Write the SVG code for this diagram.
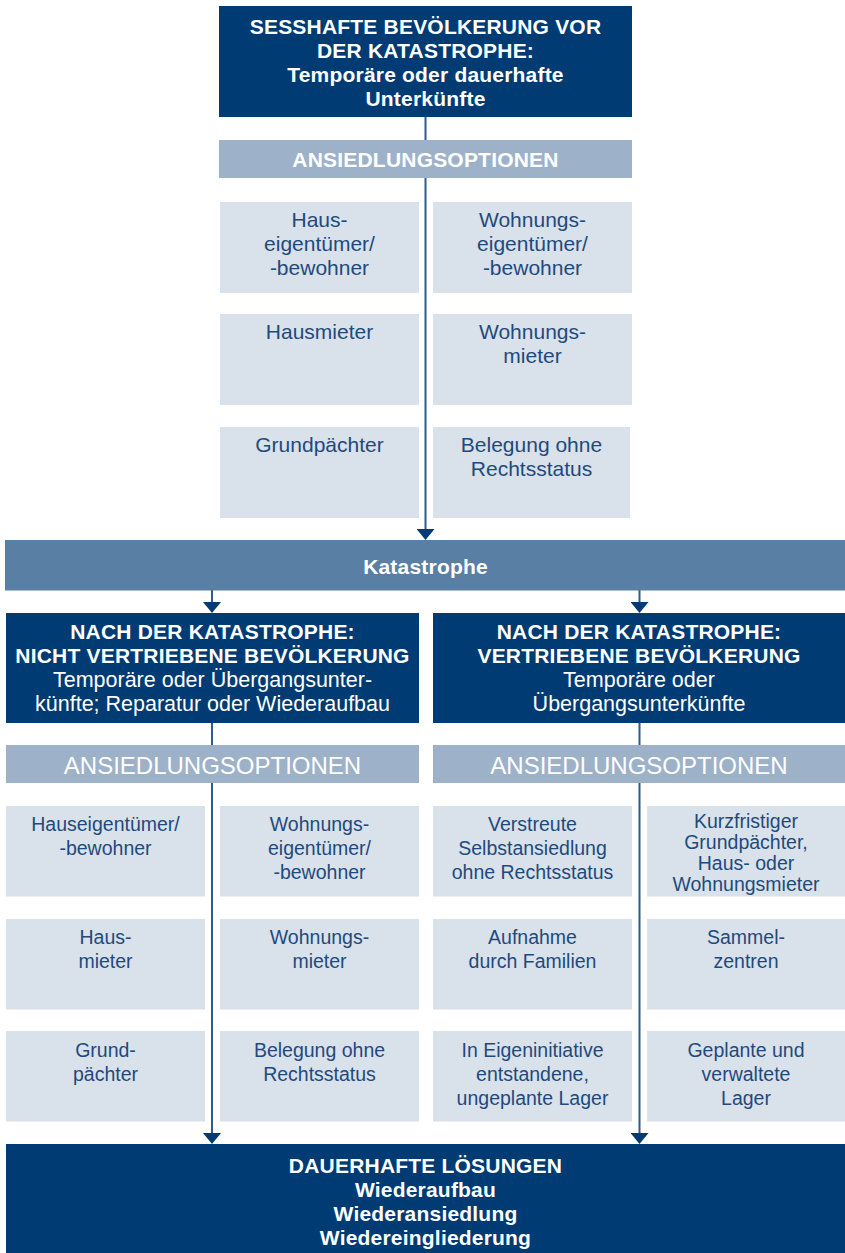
<svg xmlns="http://www.w3.org/2000/svg" width="845" height="1253" viewBox="0 0 845 1253">
<style>
.navy{fill:#003b73}
.kat{fill:#5a7fa5}
.bar{fill:#9db1c9}
.opt{fill:#d9e1ea}
text{font-family:"Liberation Sans",Arial,Helvetica,sans-serif;text-anchor:middle}
.hb{font-size:21px;font-weight:bold;fill:#fff;letter-spacing:0.2px}
.hr{font-size:21.5px;fill:#fff}
.b2{font-size:24px;fill:#fff}
.ot{font-size:21px;fill:#1f4a7c}
.os{font-size:19.5px;fill:#1f4a7c}
.conn{stroke:#2c5b8e;stroke-width:2;fill:none}
</style>
<defs>
<marker id="ah" markerUnits="userSpaceOnUse" markerWidth="11" markerHeight="18" refX="1" refY="9" orient="auto" viewBox="0 0 11 18">
<path d="M0,0 L11,9 L0,18 z" fill="#003b73"/>
</marker>
</defs>

<g id="connectors">
<line class="conn" x1="425.5" y1="116" x2="425.5" y2="530" marker-end="url(#ah)"/>
<line class="conn" x1="212" y1="590" x2="212" y2="603" marker-end="url(#ah)"/>
<line class="conn" x1="639.5" y1="590" x2="639.5" y2="603" marker-end="url(#ah)"/>
<line class="conn" x1="212" y1="722" x2="212" y2="1134" marker-end="url(#ah)"/>
<line class="conn" x1="639.5" y1="722" x2="639.5" y2="1134" marker-end="url(#ah)"/>
</g>

<g id="top">
<rect class="navy" x="219" y="6" width="413" height="111"/>
<text class="hb" x="425.5" y="34">SESSHAFTE BEVÖLKERUNG VOR</text>
<text class="hb" x="425.5" y="58">DER KATASTROPHE:</text>
<text class="hb" x="425.5" y="82">Temporäre oder dauerhafte</text>
<text class="hb" x="425.5" y="105.5">Unterkünfte</text>
</g>

<g id="optTop">
<rect class="bar" x="219" y="140" width="413" height="38"/>
<text class="hb" x="425.5" y="166.5">ANSIEDLUNGSOPTIONEN</text>
</g>

<g id="t1"><rect class="opt" x="220" y="202" width="199" height="91"/>
<text class="ot" x="319.5" y="227">Haus-</text><text class="ot" x="319.5" y="251">eigentümer/</text><text class="ot" x="319.5" y="275">-bewohner</text></g>
<g id="t2"><rect class="opt" x="433" y="202" width="199" height="91"/>
<text class="ot" x="532.5" y="227">Wohnungs-</text><text class="ot" x="532.5" y="251">eigentümer/</text><text class="ot" x="532.5" y="275">-bewohner</text></g>
<g id="t3"><rect class="opt" x="220" y="314" width="199" height="91"/>
<text class="ot" x="319.5" y="339">Hausmieter</text></g>
<g id="t4"><rect class="opt" x="433" y="314" width="199" height="91"/>
<text class="ot" x="532.5" y="339">Wohnungs-</text><text class="ot" x="532.5" y="363">mieter</text></g>
<g id="t5"><rect class="opt" x="220" y="427" width="199" height="91"/>
<text class="ot" x="319.5" y="452">Grundpächter</text></g>
<g id="t6"><rect class="opt" x="433" y="427" width="197" height="91"/>
<text class="ot" x="531.5" y="452">Belegung ohne</text><text class="ot" x="531.5" y="476">Rechtsstatus</text></g>

<g id="katastrophe">
<rect class="kat" x="5" y="540" width="840" height="50.5"/>
<text class="hb" x="425.5" y="574">Katastrophe</text>
</g>

<g id="nichtVertrieben">
<rect class="navy" x="6" y="613" width="413" height="110"/>
<text class="hb" x="212.5" y="639">NACH DER KATASTROPHE:</text>
<text class="hb" x="212.5" y="663">NICHT VERTRIEBENE BEVÖLKERUNG</text>
<text class="hr" x="212.5" y="687">Temporäre oder Übergangsunter-</text>
<text class="hr" x="212.5" y="711">künfte; Reparatur oder Wiederaufbau</text>
</g>
<g id="vertrieben">
<rect class="navy" x="433" y="613" width="412" height="110"/>
<text class="hb" x="639" y="639">NACH DER KATASTROPHE:</text>
<text class="hb" x="639" y="663">VERTRIEBENE BEVÖLKERUNG</text>
<text class="hr" x="639" y="687">Temporäre oder</text>
<text class="hr" x="639" y="711">Übergangsunterkünfte</text>
</g>

<g id="optLeft">
<rect class="bar" x="6" y="745" width="413" height="38"/>
<text class="b2" x="212.5" y="773.5">ANSIEDLUNGSOPTIONEN</text>
</g>
<g id="optRight">
<rect class="bar" x="433" y="745" width="412" height="38"/>
<text class="b2" x="639" y="773.5">ANSIEDLUNGSOPTIONEN</text>
</g>

<g id="b11"><rect class="opt" x="6" y="806" width="199" height="90.5"/>
<text class="os" x="105.5" y="830.5">Hauseigentümer/</text><text class="os" x="105.5" y="854.5">-bewohner</text></g>
<g id="b12"><rect class="opt" x="220" y="806" width="199" height="90.5"/>
<text class="os" x="319.5" y="830.5">Wohnungs-</text><text class="os" x="319.5" y="854.5">eigentümer/</text><text class="os" x="319.5" y="878.5">-bewohner</text></g>
<g id="b13"><rect class="opt" x="433" y="806" width="199" height="90.5"/>
<text class="os" x="532.5" y="830.5">Verstreute</text><text class="os" x="532.5" y="854.5">Selbstansiedlung</text><text class="os" x="532.5" y="878.5">ohne Rechtsstatus</text></g>
<g id="b14"><rect class="opt" x="647" y="806" width="198" height="90.5"/>
<text class="os" x="746" y="827.5">Kurzfristiger</text><text class="os" x="746" y="848.5">Grundpächter,</text><text class="os" x="746" y="869.5">Haus- oder</text><text class="os" x="746" y="890.5">Wohnungsmieter</text></g>

<g id="b21"><rect class="opt" x="6" y="919" width="199" height="90.5"/>
<text class="os" x="105.5" y="944">Haus-</text><text class="os" x="105.5" y="968">mieter</text></g>
<g id="b22"><rect class="opt" x="220" y="919" width="199" height="90.5"/>
<text class="os" x="319.5" y="944">Wohnungs-</text><text class="os" x="319.5" y="968">mieter</text></g>
<g id="b23"><rect class="opt" x="433" y="919" width="199" height="90.5"/>
<text class="os" x="532.5" y="944">Aufnahme</text><text class="os" x="532.5" y="968">durch Familien</text></g>
<g id="b24"><rect class="opt" x="647" y="919" width="198" height="90.5"/>
<text class="os" x="746" y="944">Sammel-</text><text class="os" x="746" y="968">zentren</text></g>

<g id="b31"><rect class="opt" x="6" y="1031" width="199" height="90.5"/>
<text class="os" x="105.5" y="1056.5">Grund-</text><text class="os" x="105.5" y="1080.5">pächter</text></g>
<g id="b32"><rect class="opt" x="220" y="1031" width="199" height="90.5"/>
<text class="os" x="319.5" y="1056.5">Belegung ohne</text><text class="os" x="319.5" y="1080.5">Rechtsstatus</text></g>
<g id="b33"><rect class="opt" x="433" y="1031" width="199" height="90.5"/>
<text class="os" x="532.5" y="1056.5">In Eigeninitiative</text><text class="os" x="532.5" y="1080.5">entstandene,</text><text class="os" x="532.5" y="1104.5">ungeplante Lager</text></g>
<g id="b34"><rect class="opt" x="647" y="1031" width="198" height="90.5"/>
<text class="os" x="746" y="1056.5">Geplante und</text><text class="os" x="746" y="1080.5">verwaltete</text><text class="os" x="746" y="1104.5">Lager</text></g>

<g id="dauerhaft">
<rect class="navy" x="6" y="1144" width="839" height="109"/>
<text class="hb" x="425.5" y="1173">DAUERHAFTE LÖSUNGEN</text>
<text class="hb" x="425.5" y="1197">Wiederaufbau</text>
<text class="hb" x="425.5" y="1221">Wiederansiedlung</text>
<text class="hb" x="425.5" y="1245">Wiedereingliederung</text>
</g>
</svg>
